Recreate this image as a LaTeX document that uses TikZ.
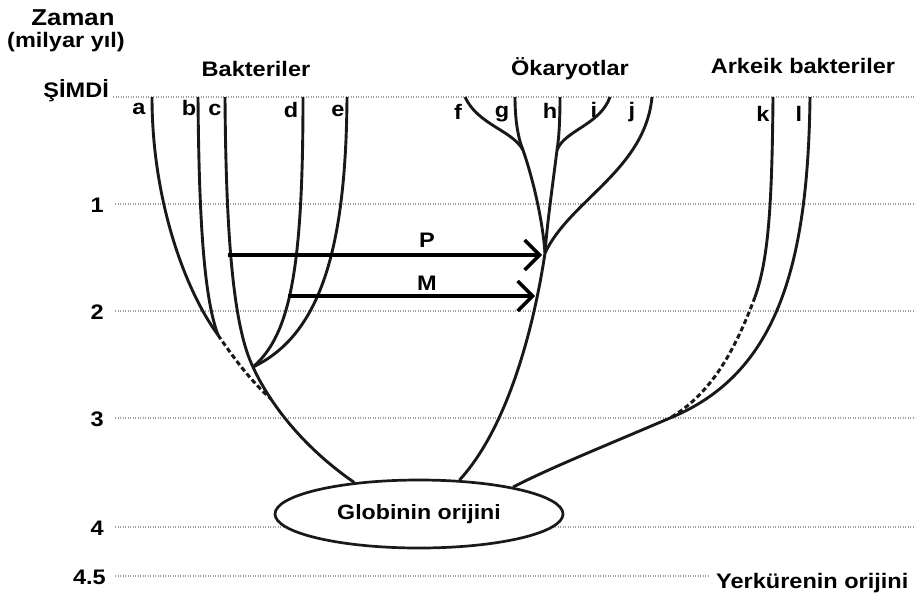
\documentclass[tikz,border=0pt]{standalone}
\usepackage{fontspec}
\setmainfont{Liberation Sans}[FakeStretch=1.12]
\usetikzlibrary{shapes.geometric,arrows.meta}
\tikzset{
  hline/.style={draw=gray!75, line width=1.3pt, dash pattern=on 1.3pt off 1.2pt},
  branch/.style={draw=black!90, line width=2.9pt},
  dashbranch/.style={draw=black!90, line width=3pt, dash pattern=on 5pt off 3pt},
  transfer/.style={draw=black, line width=3.4pt, -{Straight Barb[length=15pt,width=30pt,line width=3.4pt]}},
  lbl/.style={font=\fontsize{21}{24}\selectfont\bfseries, inner sep=0pt, anchor=base},
  tick/.style={font=\fontsize{21}{24}\selectfont\bfseries, inner sep=0pt, anchor=base east},
  globe/.style={draw=black!90, line width=2.7pt, ellipse, fill=white, minimum width=288pt, minimum height=68pt, inner sep=0pt, font=\fontsize{20.7}{24}\selectfont\bfseries}
}
\begin{document}
\begin{tikzpicture}[x=1pt,y=-1pt]
\useasboundingbox (0,0) rectangle (917,603);
% time grid
\draw[hline] (113,97) -- (915,97);
\draw[hline] (115,204) -- (915,204);
\draw[hline] (115,311) -- (915,311);
\draw[hline] (115,418) -- (915,418);
\draw[hline] (115,527) -- (915,527);
\draw[hline] (115,576) -- (708,576);
% axis labels
\node[lbl, font=\fontsize{23}{26}\selectfont\bfseries] (zaman) at (73,25) {Zaman};
\node[lbl] (milyar) at (66,47) {(milyar yıl)};
\node[tick] (simdi) at (109,97) {ŞİMDİ};
\node[tick] (t1) at (104,212) {1};
\node[tick] (t2) at (104,319) {2};
\node[tick] (t3) at (104,426) {3};
\node[tick] (t4) at (104,535) {4};
\node[tick] (t45) at (106,584) {4.5};
\node[lbl, anchor=base west] (yer) at (716,588) {Yerkürenin orijini};
% group titles
\node[lbl] (bak) at (256,76) {Bakteriler};
\node[lbl] (oka) at (570,75) {Ökaryotlar};
\node[lbl] (ark) at (803,73) {Arkeik bakteriler};
% leaf labels
\node[lbl] (la) at (139,114) {a};
\node[lbl] (lb) at (189,115) {b};
\node[lbl] (lc) at (215,115) {c};
\node[lbl] (ld) at (291,117) {d};
\node[lbl] (le) at (338,116) {e};
\node[lbl] (lf) at (458,119) {f};
\node[lbl] (lg) at (502,117) {g};
\node[lbl] (lh) at (550,118) {h};
\node[lbl] (li) at (594,117) {i};
\node[lbl] (lj) at (632,117) {j};
\node[lbl] (lk) at (763,121) {k};
\node[lbl] (ll) at (799,121) {l};
% origin
\node[globe] (glob) at (419,514) {Globinin orijini};
% coordinates
\coordinate (atop) at (152,97);
\coordinate (btop) at (198,97);
\coordinate (ctop) at (225,97);
\coordinate (dtop) at (303,97);
\coordinate (etop) at (347,97);
\coordinate (ab) at (218,335);
\coordinate (cde) at (253,367);
\coordinate (cj) at (271,399);
\coordinate (ftop) at (465,97);
\coordinate (gtop) at (515,97);
\coordinate (htop) at (560,97);
\coordinate (itop) at (610,97);
\coordinate (jtop) at (652,97);
\coordinate (fg) at (523,150);
\coordinate (hi) at (557,150);
\coordinate (euk) at (545,253);
\coordinate (ktop) at (773,97);
\coordinate (lltop) at (810,97);
\coordinate (kend) at (755,297);
\coordinate (kl) at (670,418);
\coordinate (pS) at (228,255);
\coordinate (pE) at (542,255);
\coordinate (mS) at (288,296);
\coordinate (mE) at (535,296);
% bacteria
\draw[branch] (atop) .. controls (152,200) and (185,290) .. (ab);
\draw[branch] (btop) .. controls (199,230) and (205,300) .. (ab);
\draw[dashbranch] (ab) .. controls (235,360) and (252,382) .. (cj);
\draw[branch] (ctop) .. controls (226,250) and (235,330) .. (cde)
  .. controls (268,400) and (300,445) .. (glob.154);
\draw[branch] (dtop) .. controls (303,270) and (290,335) .. (cde);
\draw[branch] (etop) .. controls (346,250) and (320,335) .. (cde);
% eukaryotes
\draw[branch] (ftop) .. controls (478,125) and (512,130) .. (fg);
\draw[branch] (gtop) .. controls (515,120) and (518,138) .. (fg);
\draw[branch] (fg) .. controls (535,185) and (543,225) .. (euk);
\draw[branch] (htop) .. controls (560,120) and (559,138) .. (hi);
\draw[branch] (itop) .. controls (600,125) and (565,130) .. (hi);
\draw[branch] (hi) .. controls (552,190) and (547,225) .. (euk);
\draw[branch] (jtop) .. controls (645,170) and (570,200) .. (euk);
\draw[branch] (euk) .. controls (535,320) and (510,425) .. (glob.40);
% archaea
\draw[branch] (ktop) .. controls (772,210) and (768,260) .. (kend);
\draw[dashbranch] (kend) .. controls (735,350) and (712,393) .. (kl);
\draw[branch] (lltop) .. controls (808,270) and (775,375) .. (kl)
  .. controls (600,448) and (550,468) .. (glob.16);
% transfers
\draw[transfer] (pS) -- (pE);
\draw[transfer] (mS) -- (mE);
\node[lbl] (P) at (427,247) {P};
\node[lbl] (M) at (427,290) {M};
\end{tikzpicture}
\end{document}
